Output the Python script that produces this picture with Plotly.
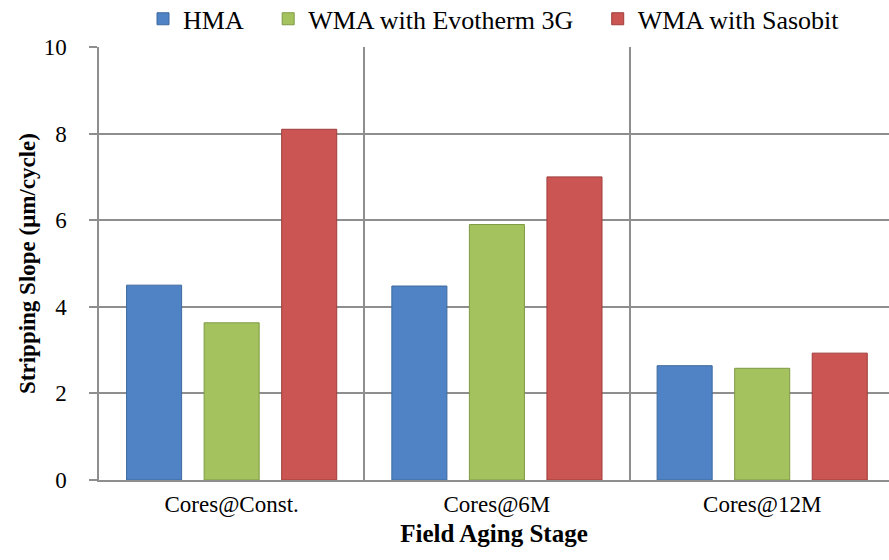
import plotly.graph_objects as go

categories = ["Cores@Const.", "Cores@6M", "Cores@12M"]
hma = [4.50, 4.48, 2.64]
evotherm = [3.63, 5.90, 2.58]
sasobit = [8.10, 7.00, 2.93]

series_names = ["HMA", "WMA with Evotherm 3G", "WMA with Sasobit"]
series_values = [hma, evotherm, sasobit]
fill_colors = ["#4F83C6", "#A4C35E", "#CB5552"]
edge_colors = ["#3F6A9E", "#7F9A45", "#9E3E3B"]

FONT = "Liberation Serif"
GRID = "#8E8E8E"
PAD = "\u00a0\u00a0\u00a0"

fig = go.Figure()
for i, (name, vals, fc, ec) in enumerate(zip(series_names, series_values, fill_colors, edge_colors)):
    label = name + (PAD if i < len(series_names) - 1 else "")
    fig.add_trace(go.Bar(
        x=categories, y=vals, name=label,
        marker=dict(color=fc, line=dict(color=ec, width=1)),
    ))

fig.update_layout(
    width=889, height=560,
    margin=dict(l=99, r=0, t=47, b=80, autoexpand=False),
    paper_bgcolor="white", plot_bgcolor="white",
    barmode="group", bargap=0.123, bargroupgap=0.29,
    font=dict(family=FONT, color="black", size=23),
    showlegend=True,
    legend=dict(
        orientation="h", x=0.5, xanchor="center", y=1.065, yanchor="middle",
        font=dict(family=FONT, size=26, color="black"),
        bgcolor="rgba(0,0,0,0)", itemclick=False,
    ),
    xaxis=dict(
        type="category", range=[-0.5, 2.478],
        tickson="boundaries", showgrid=True, gridcolor=GRID, gridwidth=1.5,
        ticks="", showline=True, linecolor=GRID, linewidth=1.5,
        ticklabelstandoff=3,
        tickfont=dict(family=FONT, size=23, color="black"),
        title=dict(text="<b>Field Aging Stage</b>", font=dict(family=FONT, size=25, color="black"), standoff=8),
        automargin=False, zeroline=False,
    ),
    yaxis=dict(
        range=[0, 10], dtick=2, tick0=0,
        showgrid=True, gridcolor=GRID, gridwidth=1.5,
        ticks="outside", ticklen=8, tickwidth=1.5, tickcolor=GRID,
        showline=True, linecolor=GRID, linewidth=1.5,
        ticklabelstandoff=18,
        tickfont=dict(family=FONT, size=23, color="black"),
        title=dict(text="<b>Stripping Slope (μm/cycle)</b>", font=dict(family=FONT, size=23, color="black"), standoff=2),
        automargin=False, zeroline=False,
    ),
)

fig.write_html("out.html")
